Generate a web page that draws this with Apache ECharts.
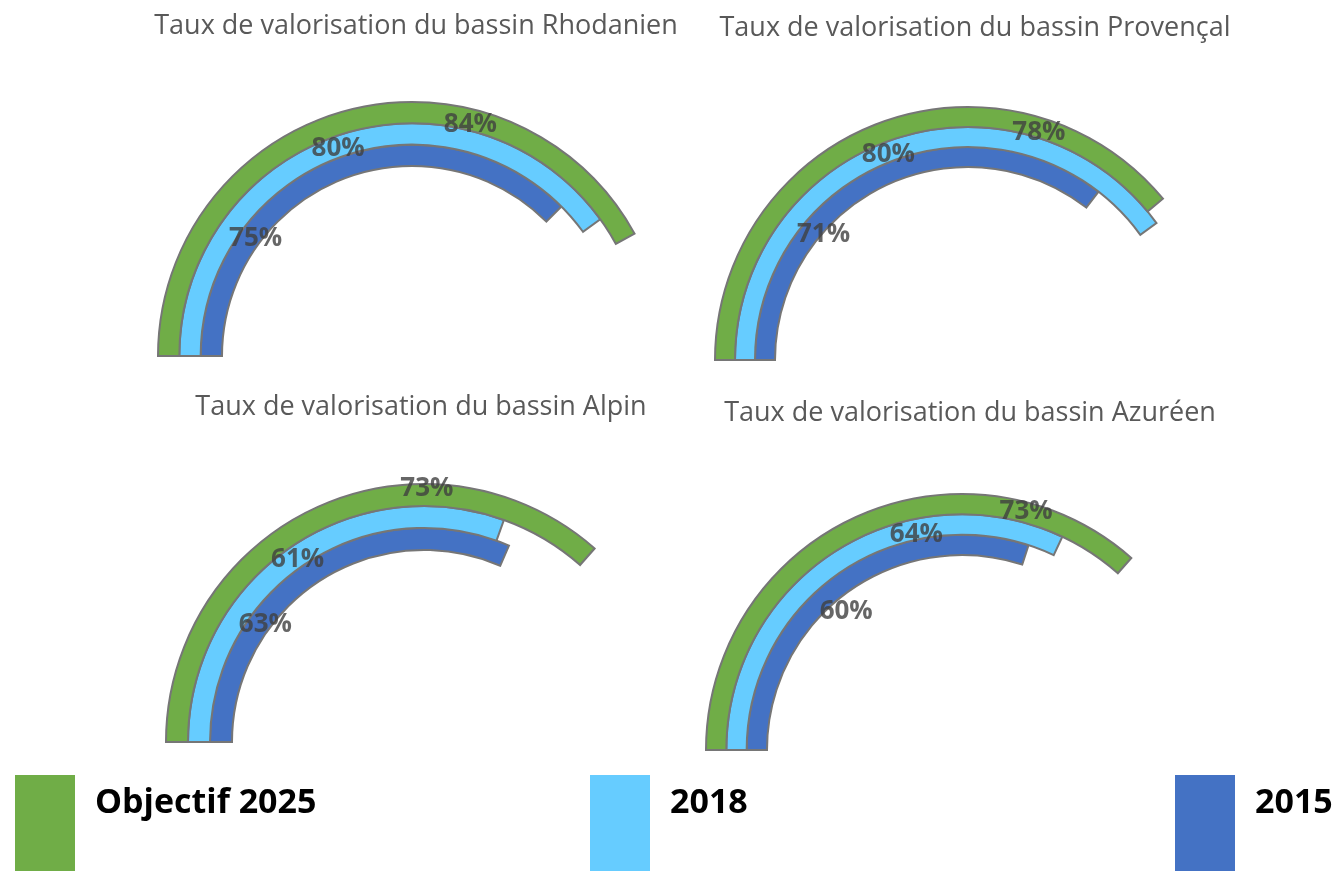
<!DOCTYPE html>
<html>
<head>
<meta charset="utf-8">
<script src="https://cdn.jsdelivr.net/npm/echarts@6/dist/echarts.min.js"></script>
<style>
html,body{margin:0;padding:0;background:#fff;}
#main{width:1337px;height:871px;}
</style>
</head>
<body>
<div id="main"></div>
<script>
// ---- data ----
const CATEGORIES = ['2015', '2018', 'Objectif 2025'];
const TITLES = [
  'Taux de valorisation du bassin Rhodanien',
  'Taux de valorisation du bassin Provençal',
  'Taux de valorisation du bassin Alpin',
  'Taux de valorisation du bassin Azuréen'
];
const V2015 = [75, 71, 63, 60];
const V2018 = [80, 80, 61, 64];
const VOBJ  = [84, 78, 73, 73];
const LEGEND_NAMES = ['Objectif 2025', '2018', '2015'];

// ---- layout / style ----
const COLORS = {'2015': '#4472C4', '2018': '#66CCFF', 'Objectif 2025': '#70AD47'};
const PANELS = [
  {center: [412, 356], radius: [190, 254], title: [411, 8]},
  {center: [968, 360], radius: [193, 253], title: [970, 10]},
  {center: [424, 742], radius: [192, 258], title: [416, 389]},
  {center: [962, 750], radius: [195, 256], title: [965, 395]}
];
// where along each arc the value label sits (fraction of the value), inner->outer
const LABEL_ANCHOR = [
  [0.27, 0.49, 0.687],
  [0.32, 0.476, 0.76],
  [0.32, 0.50, 0.69],
  [0.47, 0.68, 0.80]
];
const LABEL_OFFSET = [
  [[5,2],[0,2],[0,5]],
  [[9,7],[2,2],[1,5]],
  [[5,3],[3,2],[0,-6]],
  [[14,20],[0,5],[0,-1]]
];
const LEGEND_LEFT = [15, 590, 1175];

const chart = echarts.init(document.getElementById('main'), null, {renderer: 'canvas'});

const polar = [], angleAxis = [], radiusAxis = [], series = [], title = [];
PANELS.forEach((p, i) => {
  polar.push({center: p.center, radius: p.radius});
  angleAxis.push({
    polarIndex: i, type: 'value', min: 0, max: 200, startAngle: 180, clockwise: true,
    show: false, axisLine: {show: false}, axisTick: {show: false},
    axisLabel: {show: false}, splitLine: {show: false}
  });
  radiusAxis.push({
    polarIndex: i, type: 'category', data: CATEGORIES, show: false,
    axisLine: {show: false}, axisTick: {show: false}, axisLabel: {show: false}
  });
  title.push({
    text: TITLES[i], left: p.title[0], top: p.title[1], textAlign: 'center',
    textStyle: {fontFamily: 'Open Sans', fontSize: 27, fontWeight: 'normal', color: '#595959'}
  });
  const vals = [V2015[i], V2018[i], VOBJ[i]];
  CATEGORIES.forEach((c, k) => {
    series.push({
      type: 'bar', name: c, coordinateSystem: 'polar', polarIndex: i,
      stack: 'p' + i, barCategoryGap: '0%',
      data: CATEGORIES.map((_, j) => j === k ? vals[k] : '-'),
      itemStyle: {color: COLORS[c], borderColor: '#767676', borderWidth: 2},
      emphasis: {disabled: true}, silent: true
    });
  });
  series.push({
    type: 'scatter', name: 'labels' + i, coordinateSystem: 'polar', polarIndex: i,
    symbolSize: 1, itemStyle: {color: 'rgba(0,0,0,0)'}, z: 10, silent: true,
    data: vals.map((v, k) => ({
      value: [k, v * LABEL_ANCHOR[i][k], v],
      label: {offset: LABEL_OFFSET[i][k]}
    })),
    label: {
      show: true, position: 'inside',
      formatter: (pp) => pp.value[2] + '%',
      fontFamily: 'Open Sans', fontSize: 26, fontWeight: 'bold', color: '#404040'
    }
  });
});

const legend = LEGEND_NAMES.map((n, i) => ({
  data: [n], left: LEGEND_LEFT[i], top: 775, orient: 'horizontal',
  icon: 'rect', itemWidth: 60, itemHeight: 96, padding: 0, selectedMode: false,
  itemStyle: {borderWidth: 0},
  formatter: (name) => name + '\n ',
  textStyle: {fontFamily: 'Open Sans', fontSize: 34, fontWeight: 'bold', color: '#000',
              lineHeight: 40, padding: [0, 0, 0, 15]}
}));

chart.setOption({
  backgroundColor: '#ffffff',
  animation: false,
  title, polar, angleAxis, radiusAxis, series, legend
});
</script>
</body>
</html>
